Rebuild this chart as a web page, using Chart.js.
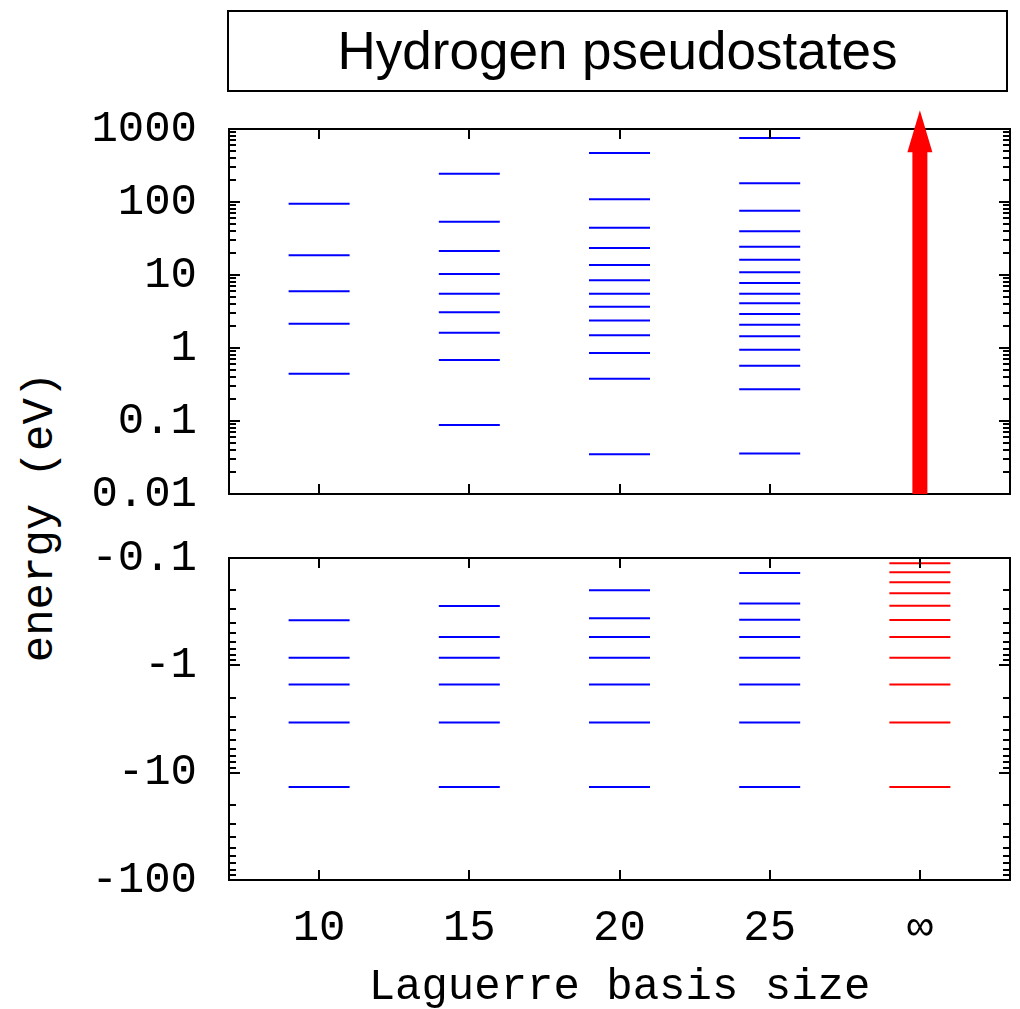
<!DOCTYPE html>
<html>
<head>
<meta charset="utf-8">
<title>Hydrogen pseudostates</title>
<script src="https://cdn.jsdelivr.net/npm/chart.js@4.4.1/dist/chart.umd.min.js"></script>
<style>
  html, body { margin: 0; padding: 0; background: #fff; overflow: hidden; }
  #page { position: relative; width: 1020px; height: 1009px; overflow: hidden; }
  #titleBox {
    position: absolute; left: 227px; top: 10px; width: 781px; height: 82px;
    box-sizing: border-box; border: 2px solid #000;
    font: 53px "Liberation Sans", Arial, sans-serif; color: #000;
    text-align: center; line-height: 78px;
  }
  #yTitle {
    position: absolute; left: -160px; top: 492px; width: 400px; height: 50px;
    font: 44px "Liberation Mono", "Courier New", monospace; color: #000;
    text-align: center; line-height: 50px; white-space: pre;
    transform: rotate(-90deg);
  }
  canvas { position: absolute; left: 0; }
  #positiveChart { top: 95px; }
  #boundChart { top: 520px; }
</style>
</head>
<body>
<div id="page">
  <div id="titleBox">Hydrogen pseudostates</div>
  <div id="yTitle">energy (eV)</div>
  <canvas id="positiveChart" width="1020" height="430"></canvas>
  <canvas id="boundChart" width="1020" height="510"></canvas>
</div>
<script>
// basis sizes on the x axis; the exact spectrum sits at x = 30, labelled "∞"
const basisSizes = [10, 15, 20, 25];
const exactColumn = 30;
const xTickValues = [10, 15, 20, 25, 30];
const xTickLabels = ['10', '15', '20', '25', '∞'];

// positive-energy pseudostates (eV)
const positive10 = [95, 18.6, 6.0, 2.15, 0.445];
const positive15 = [244, 53.7, 21.3, 10.3, 5.55, 3.08, 1.62, 0.686, 0.088];
const positive20 = [469, 109, 44.4, 23.4, 13.7, 8.45, 5.55, 3.68, 2.39, 1.49, 0.855, 0.379, 0.035];
const positive25 = [753, 180, 76, 39.7, 24.4, 16.2, 10.9, 7.76, 5.55, 4.09, 2.92, 2.08, 1.45, 0.948, 0.573, 0.272, 0.036];

// negative-energy (bound) states (eV)
const bound10 = [-13.6, -3.4, -1.51, -0.85, -0.38];
const bound15 = [-13.6, -3.4, -1.51, -0.85, -0.544, -0.28];
const bound20 = [-13.6, -3.4, -1.51, -0.85, -0.544, -0.365, -0.2];
const bound25 = [-13.6, -3.4, -1.51, -0.85, -0.544, -0.376, -0.265, -0.138];
const boundExact = [-13.6, -3.4, -1.51, -0.85, -0.544, -0.378, -0.278, -0.213, -0.168, -0.136, -0.112];

const positiveTickValues = [0.01, 0.1, 1, 10, 100, 1000];
const positiveTickLabels = ['0.01', '0.1', '1', '10', '100', '1000'];
const boundTickValues = [0.1, 1, 10, 100];
const boundTickLabels = ['-0.1', '-1', '-10', '-100'];

// continuum arrow for the exact spectrum
const arrowFrom = 0.01;
const arrowTo = 1800;

const BLUE = '#0000ff';
const RED = '#ff0000';

Chart.defaults.font.family = '"Liberation Mono", "Courier New", monospace';
Chart.defaults.color = '#000';

// each level is a short horizontal dash centred on its basis size
const levelSet = (size, energies, color) => ({
  data: energies.map(e => ({ x: size, y: Math.abs(e) })),
  pointStyle: 'line',
  pointRadius: 30.5,
  borderColor: color,
  backgroundColor: color,
  borderWidth: 2
});

// box around the plot area with inward ticks on all four sides
const frameTicks = {
  id: 'frameTicks',
  afterDraw(chart) {
    const { ctx, chartArea: a } = chart;
    const x = chart.scales.x;
    const y = chart.scales.y;
    const lo = Math.min(y.min, y.max);
    const hi = Math.max(y.min, y.max);
    ctx.save();
    ctx.strokeStyle = '#000';
    ctx.lineWidth = 2;
    ctx.beginPath();
    for (let d = Math.floor(Math.log10(lo)); d <= Math.ceil(Math.log10(hi)); d++) {
      for (let k = 1; k <= 9; k++) {
        const v = k * Math.pow(10, d);
        if (v < lo * 0.999 || v > hi * 1.001) continue;
        const py = Math.round(y.getPixelForValue(v));
        const len = k === 1 ? 11 : 7;
        ctx.moveTo(a.left, py); ctx.lineTo(a.left + len, py);
        ctx.moveTo(a.right, py); ctx.lineTo(a.right - len, py);
      }
    }
    xTickValues.forEach(v => {
      const px = Math.round(x.getPixelForValue(v));
      ctx.moveTo(px, a.top); ctx.lineTo(px, a.top + 10);
      ctx.moveTo(px, a.bottom); ctx.lineTo(px, a.bottom - 10);
    });
    ctx.stroke();
    ctx.strokeRect(a.left, a.top, a.right - a.left, a.bottom - a.top);
    ctx.restore();
  }
};

const continuumArrow = {
  id: 'continuumArrow',
  afterDraw(chart) {
    const { ctx } = chart;
    const px = chart.scales.x.getPixelForValue(exactColumn);
    const base = chart.scales.y.getPixelForValue(arrowFrom);
    const tip = chart.scales.y.getPixelForValue(arrowTo);
    const headBase = tip + 42;
    ctx.save();
    ctx.fillStyle = RED;
    ctx.fillRect(px - 7.5, headBase - 1, 15, base - headBase + 1);
    ctx.beginPath();
    ctx.moveTo(px, tip);
    ctx.lineTo(px + 12.5, headBase);
    ctx.lineTo(px - 12.5, headBase);
    ctx.closePath();
    ctx.fill();
    ctx.restore();
  }
};

const tickFont = { size: 44, lineHeight: 1.2 };

const yAxis = (min, max, values, labels, reverse) => ({
  type: 'logarithmic',
  min: min,
  max: max,
  reverse: reverse,
  afterBuildTicks: s => { s.ticks = values.map(v => ({ value: v })); },
  afterFit: s => {
    s.width = 229;
    s.paddingTop = 0;
    s.paddingBottom = 0;
  },
  grid: { display: false, drawTicks: false },
  border: { display: false },
  ticks: { padding: 32, autoSkip: false, font: tickFont, callback: (v, i) => labels[i] }
});

const baseOptions = {
  responsive: false,
  animation: false,
  events: [],
  plugins: { legend: { display: false }, tooltip: { enabled: false } }
};

new Chart(document.getElementById('positiveChart'), {
  type: 'scatter',
  data: {
    datasets: [
      levelSet(basisSizes[0], positive10, BLUE),
      levelSet(basisSizes[1], positive15, BLUE),
      levelSet(basisSizes[2], positive20, BLUE),
      levelSet(basisSizes[3], positive25, BLUE)
    ]
  },
  options: {
    ...baseOptions,
    layout: { autoPadding: false, padding: { top: 34, bottom: 31, left: 0, right: 10 } },
    scales: {
      x: { type: 'linear', min: 7, max: 33, display: false },
      y: yAxis(0.01, 1000, positiveTickValues, positiveTickLabels, false)
    }
  },
  plugins: [frameTicks, continuumArrow]
});

new Chart(document.getElementById('boundChart'), {
  type: 'scatter',
  data: {
    datasets: [
      levelSet(basisSizes[0], bound10, BLUE),
      levelSet(basisSizes[1], bound15, BLUE),
      levelSet(basisSizes[2], bound20, BLUE),
      levelSet(basisSizes[3], bound25, BLUE),
      levelSet(exactColumn, boundExact, RED)
    ]
  },
  options: {
    ...baseOptions,
    layout: { autoPadding: false, padding: { top: 38, bottom: 0, left: 0, right: 10 } },
    scales: {
      x: {
        type: 'linear',
        min: 7,
        max: 33,
        position: 'bottom',
        afterBuildTicks: s => { s.ticks = xTickValues.map(v => ({ value: v })); },
        afterFit: s => {
          s.height = 150;
          s.paddingLeft = 0;
          s.paddingRight = 0;
        },
        grid: { display: false, drawTicks: false },
        border: { display: false },
        ticks: { padding: 22, autoSkip: false, maxRotation: 0, font: tickFont, callback: (v, i) => xTickLabels[i] },
        title: {
          display: true,
          text: 'Laguerre basis size',
          font: { size: 44, lineHeight: 1.2 },
          padding: { top: 0, bottom: 16 }
        }
      },
      y: yAxis(0.1, 100, boundTickValues, boundTickLabels, true)
    }
  },
  plugins: [frameTicks]
});
</script>
</body>
</html>
